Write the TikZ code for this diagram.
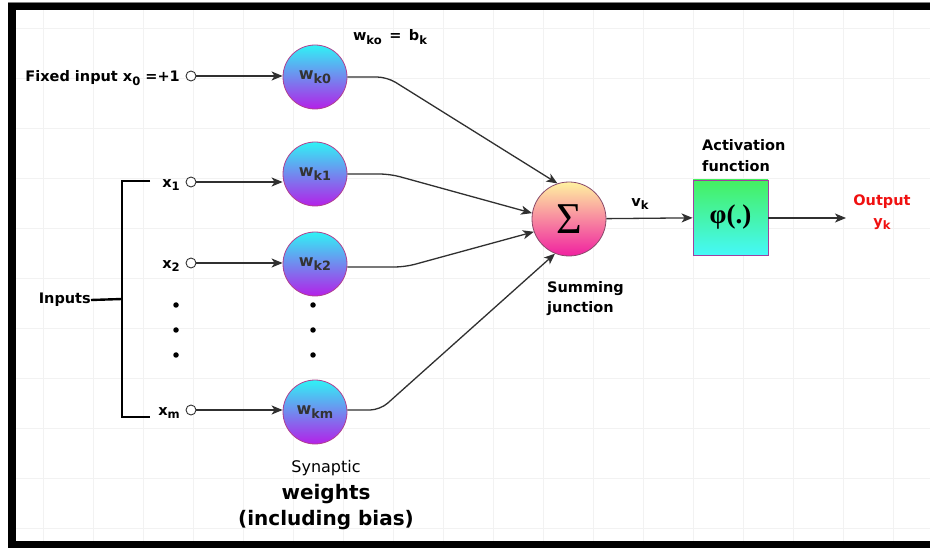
\documentclass[tikz,border=0pt]{standalone}
\usepackage{fontspec}
\setmainfont{DejaVu Sans}
\newfontfamily\serifb{Liberation Serif}
\usetikzlibrary{arrows.meta}
\definecolor{wtop}{HTML}{30F2F5}
\definecolor{wbot}{HTML}{B420E8}
\definecolor{wbord}{HTML}{B04090}
\definecolor{stop}{HTML}{FFF2A0}
\definecolor{sbot}{HTML}{F020A0}
\definecolor{sbord}{HTML}{8A4A6A}
\definecolor{btop}{HTML}{45F060}
\definecolor{bbot}{HTML}{45F8F8}
\definecolor{bbord}{HTML}{A040A0}
\definecolor{lnc}{HTML}{303030}
\definecolor{outred}{HTML}{F01010}
\newcommand\lsub[1]{\raisebox{-0.22em}{\scalebox{0.8}{#1}}}
\tikzset{
  lbl/.style={inner sep=0pt, font=\fontsize{14.5}{16}\selectfont\bfseries},
  wnode/.style={circle, draw=wbord, line width=0.8pt, minimum size=64pt, inner sep=0pt,
     top color=wtop, bottom color=wbot, font=\fontsize{16}{17}\selectfont\bfseries, text=black!80},
  port/.style={circle, draw=black!80, fill=white, line width=0.9pt, minimum size=10pt, inner sep=0pt},
  arr/.style={draw=lnc, line width=1.3pt, -{Stealth[length=11pt,width=9pt,inset=3pt]}},
  conn/.style={draw=lnc, line width=1.3pt, rounded corners=10pt, -{Stealth[length=11pt,width=9pt,inset=3pt]}},
  brk/.style={draw=black, line width=2.4pt},
  dotc/.style={circle, fill=black, minimum size=5.5pt, inner sep=0pt},
}
\begin{document}
\begin{tikzpicture}[x=1pt,y=-1pt]
\useasboundingbox (0,0) rectangle (930,548);
\fill[white] (0,0) rectangle (930,548);
% faint grid
\foreach \gx in {43,93,...,930} \draw[black!5, line width=0.6pt] (\gx,10) -- (\gx,541);
\foreach \gy in {28,78,...,540} \draw[black!5, line width=0.6pt] (16,\gy) -- (930,\gy);
% frame
\fill[black] (8,2) rectangle (16,548);
\fill[black] (8,2) rectangle (930,10);
\fill[black] (8,541) rectangle (930,548);
\draw[black!50, line width=0.5pt] (8,2) -- (930,2);

% weight nodes
\node[wnode] (w0) at (315,77) {w\lsub{k0}};
\node[wnode] (w1) at (315,174) {w\lsub{k1}};
\node[wnode] (w2) at (315,264) {w\lsub{k2}};
\node[wnode] (wm) at (315,412) {w\lsub{km}};

% input ports
\node[port] (c0) at (191,76) {};
\node[port] (c1) at (191,182) {};
\node[port] (c2) at (191,263) {};
\node[port] (cm) at (191,410) {};

% input labels
\node[lbl, anchor=east] (lx0) at (180,78) {Fixed input x\lsub{0} =+1};
\node[lbl, anchor=east] (lx1) at (180,185) {x\lsub{1}};
\node[lbl, anchor=east] (lx2) at (180,266) {x\lsub{2}};
\node[lbl, anchor=east] (lxm) at (180,413) {x\lsub{m}};
\node[lbl, anchor=east] (inp) at (91,300) {Inputs};

% dots
\node[dotc] (d1) at (176,305) {};
\node[dotc] (d2) at (176,330) {};
\node[dotc] (d3) at (176,355) {};
\node[dotc] (e1) at (313,305) {};
\node[dotc] (e2) at (313,330) {};
\node[dotc] (e3) at (313,355) {};

% bracket
\coordinate (bt) at (150,181);
\coordinate (btc) at (122,181);
\coordinate (bbc) at (122,417);
\coordinate (bb) at (150,417);
\coordinate (bi) at (122,299);
\draw[brk] (bt) -- (btc) -- (bbc) -- (bb);
\draw[brk] (inp.east) -- (bi);

% arrows into weights
\draw[arr] (c0) -- (c0 -| w0.west);
\draw[arr] (c1) -- (c1 -| w1.west);
\draw[arr] (c2) -- (c2 -| w2.west);
\draw[arr] (cm) -- (cm -| wm.west);

% summing junction
\node[circle, draw=sbord, line width=0.8pt, minimum size=74pt, inner sep=0pt,
      top color=stop, bottom color=sbot] (sum) at (569,219)
      {\serifb\fontsize{44}{44}\selectfont Σ};

% connectors to sum
\coordinate (k0) at (387,77);
\coordinate (k1) at (390,174);
\coordinate (k2) at (405,267);
\coordinate (km) at (380,410);
\draw[conn] (w0.east) -- (k0) -- (sum.108);
\draw[conn] (w1.east) -- (k1) -- (sum.171);
\draw[conn] (w2.east |- k2) -- (k2) -- (sum.200);
\draw[conn] (wm.east |- km) -- (km) -- (sum.248);

% activation box
\node[draw=bbord, line width=0.8pt, minimum width=75pt, minimum height=75pt, inner sep=0pt,
      top color=btop, bottom color=bbot, font=\serifb\bfseries\fontsize{27}{27}\selectfont] (act) at (730.5,217.5) {φ(.)};
\draw[arr] (sum) -- (act);
\coordinate (outend) at (846,218);
\draw[arr] (act.east |- outend) -- (outend);

% labels
\node[lbl] (vk) at (640,204) {v\lsub{k}};
\node[lbl, anchor=west] (af1) at (702,145) {Activation};
\node[lbl, anchor=west] (af2) at (702,166) {function};
\node[lbl, text=outred] (o1) at (882,202) {Output};
\node[lbl, text=outred] (o2) at (882,224) {y\lsub{k}};
\node[lbl] (bias) at (390,37) {w\lsub{ko} \,=\, b\lsub{k}};
\node[lbl, anchor=west] (sj1) at (547,289) {Summing};
\node[lbl, anchor=west] (sj2) at (547,309) {junction};
\node[inner sep=0pt, font=\fontsize{16}{18}\selectfont] (syn) at (326,468) {Synaptic};
\node[inner sep=0pt, font=\fontsize{20}{22}\selectfont\bfseries] (wts) at (326,494) {weights};
\node[inner sep=0pt, font=\fontsize{20}{22}\selectfont\bfseries] (incl) at (326,520) {(including bias)};
\end{tikzpicture}
\end{document}
